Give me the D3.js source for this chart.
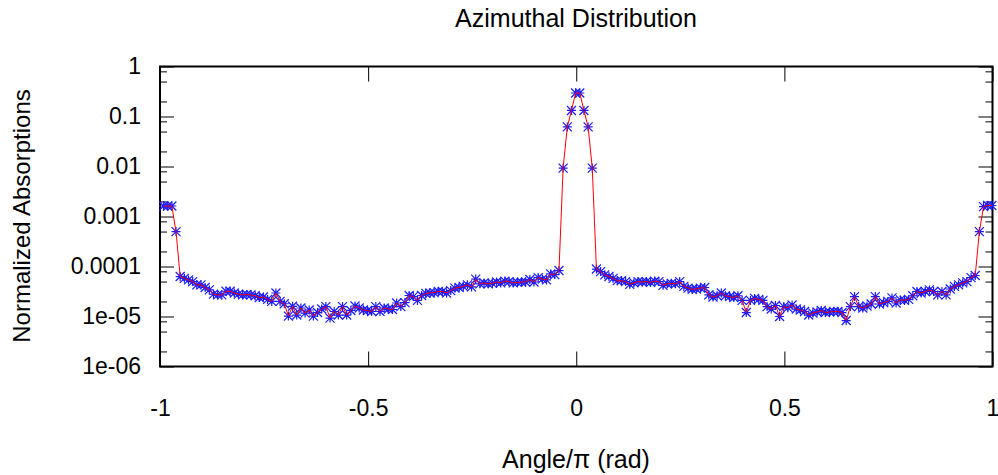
<!DOCTYPE html>
<html>
<head>
<meta charset="utf-8">
<script src="https://cdn.jsdelivr.net/npm/d3@7"></script>
<style>
  html, body { margin: 0; padding: 0; background: #fff; }
  svg { display: block; font-family: "Liberation Sans", Arial, Helvetica, sans-serif; }
</style>
</head>
<body>
<svg id="chart" width="998" height="475"></svg>
<script>
// Angular grid: 200 bins of width 0.01 (in units of pi)
const angleStart = -0.9915;
const angleStep = 0.01;

// Normalized absorption per angular bin
const absorptions = [
  1.62e-3, 1.62e-3, 1.62e-3, 5.0e-4, 6.3e-5, 5.8e-5, 5.4e-5, 5.0e-5, 4.3e-5, 4.3e-5,
  3.8e-5, 3.4e-5, 2.8e-5, 2.7e-5, 2.7e-5, 3.2e-5, 3.2e-5, 2.95e-5, 2.8e-5, 2.7e-5,
  2.75e-5, 2.7e-5, 2.6e-5, 2.4e-5, 2.45e-5, 2.2e-5, 2.0e-5, 2.95e-5, 2.0e-5, 1.8e-5,
  1.02e-5, 1.6e-5, 1.07e-5, 1.48e-5, 1.17e-5, 1.35e-5, 1.02e-5, 1.2e-5, 1.41e-5, 1.58e-5,
  9.3e-6, 1.26e-5, 1.07e-5, 1.58e-5, 1.07e-5, 1.32e-5, 1.62e-5, 1.48e-5, 1.35e-5, 1.32e-5,
  1.26e-5, 1.58e-5, 1.26e-5, 1.48e-5, 1.41e-5, 1.38e-5, 1.86e-5, 1.58e-5, 1.9e-5, 2.63e-5,
  2.5e-5, 2.1e-5, 2.63e-5, 2.9e-5, 2.95e-5, 3.0e-5, 3.16e-5, 3.16e-5, 2.95e-5, 3.3e-5,
  3.7e-5, 3.8e-5, 4.0e-5, 4.3e-5, 3.9e-5, 5.6e-5, 4.5e-5, 4.7e-5, 4.5e-5, 4.6e-5,
  4.9e-5, 4.7e-5, 5.1e-5, 5.0e-5, 4.7e-5, 4.8e-5, 4.9e-5, 4.9e-5, 5.5e-5, 4.9e-5,
  6.0e-5, 5.6e-5, 5.4e-5, 7.1e-5, 6.9e-5, 8.3e-5, 9.3e-3, 0.062, 0.132, 0.295,
  0.295, 0.132, 0.062, 9.3e-3, 8.9e-5, 7.9e-5, 6.8e-5, 6.3e-5, 5.8e-5, 5.2e-5,
  5.2e-5, 5.0e-5, 4.4e-5, 4.7e-5, 5.0e-5, 4.9e-5, 5.0e-5, 4.8e-5, 5.1e-5, 5.0e-5,
  4.2e-5, 4.5e-5, 4.6e-5, 4.5e-5, 5.0e-5, 4.0e-5, 3.7e-5, 3.5e-5, 3.55e-5, 3.7e-5,
  3.8e-5, 2.7e-5, 2.45e-5, 2.6e-5, 2.95e-5, 2.6e-5, 2.5e-5, 2.4e-5, 2.6e-5, 2.1e-5,
  1.2e-5, 2.1e-5, 2.3e-5, 2.2e-5, 2.1e-5, 1.58e-5, 1.41e-5, 1.66e-5, 1.0e-5, 1.58e-5,
  1.5e-5, 1.7e-5, 1.41e-5, 1.35e-5, 1.26e-5, 1.07e-5, 1.17e-5, 1.23e-5, 1.32e-5, 1.2e-5,
  1.23e-5, 1.26e-5, 1.26e-5, 1.2e-5, 8.3e-6, 1.58e-5, 2.5e-5, 1.58e-5, 1.48e-5, 1.62e-5,
  1.78e-5, 2.5e-5, 1.78e-5, 1.9e-5, 2.0e-5, 2.35e-5, 1.86e-5, 2.15e-5, 2.1e-5, 2.2e-5,
  2.6e-5, 3.16e-5, 2.95e-5, 3.16e-5, 3.4e-5, 3.16e-5, 2.7e-5, 3.16e-5, 2.7e-5, 3.55e-5,
  4.0e-5, 4.3e-5, 4.7e-5, 5.0e-5, 6.0e-5, 6.6e-5, 5.0e-4, 1.58e-3, 1.66e-3, 1.66e-3
];

// Axis ticks
const xTickValues = [-1, -0.5, 0, 0.5, 1];
const xTickLabels = ["-1", "-0.5", "0", "0.5", "1"];
const yTickValues = [1e-6, 1e-5, 1e-4, 1e-3, 1e-2, 1e-1, 1];
const yTickLabels = ["1e-06", "1e-05", "0.0001", "0.001", "0.01", "0.1", "1"];
const yMinorMantissas = [2, 5, 8];

const titleText = "Azimuthal Distribution";
const xLabelText = "Angle/\u03c0 (rad)";
const yLabelText = "Normalized Absorptions";

const svg = d3.select("#chart");
const plotLeft = 160, plotRight = 992.5, plotTop = 66.5, plotBottom = 366.5;

const x = d3.scaleLinear().domain([-1, 1]).range([plotLeft, plotRight]);
const y = d3.scaleLog().domain([1e-6, 1]).range([plotBottom, plotTop]);

const points = absorptions.map((v, i) => ({ a: angleStart + i * angleStep, v }));

const yMinor = [];
for (let e = -6; e < 0; e++) {
  yMinorMantissas.forEach(m => yMinor.push(m * Math.pow(10, e)));
}

const tickFont = 23;

function styleAxis(g) {
  g.select(".domain").remove();
  g.selectAll(".tick line").attr("stroke", "#000").attr("stroke-width", 1);
  g.selectAll(".tick text").attr("fill", "#000").attr("font-size", tickFont)
    .attr("font-family", "Liberation Sans, Arial, Helvetica, sans-serif");
}

// Left axis with labels, ticks pointing into the plot
svg.append("g").attr("transform", `translate(${plotLeft},0)`)
  .call(d3.axisLeft(y).tickValues(yTickValues)
    .tickFormat((d, i) => yTickLabels[i]).tickSizeInner(-14).tickSizeOuter(0).tickPadding(19))
  .call(styleAxis);
svg.append("g").attr("transform", `translate(${plotLeft},0)`)
  .call(d3.axisLeft(y).tickValues(yMinor).tickFormat("").tickSizeInner(-7).tickSizeOuter(0))
  .call(styleAxis);

// Mirrored right axis
svg.append("g").attr("transform", `translate(${plotRight},0)`)
  .call(d3.axisRight(y).tickValues(yTickValues).tickFormat("").tickSizeInner(-14).tickSizeOuter(0))
  .call(styleAxis);
svg.append("g").attr("transform", `translate(${plotRight},0)`)
  .call(d3.axisRight(y).tickValues(yMinor).tickFormat("").tickSizeInner(-7).tickSizeOuter(0))
  .call(styleAxis);

// Bottom axis with labels
svg.append("g").attr("transform", `translate(0,${plotBottom})`)
  .call(d3.axisBottom(x).tickValues(xTickValues)
    .tickFormat((d, i) => xTickLabels[i]).tickSizeInner(-15).tickSizeOuter(0).tickPadding(33))
  .call(styleAxis);

// Mirrored top axis
svg.append("g").attr("transform", `translate(0,${plotTop})`)
  .call(d3.axisTop(x).tickValues(xTickValues).tickFormat("").tickSizeInner(-15).tickSizeOuter(0))
  .call(styleAxis);

// Plot frame
svg.append("rect")
  .attr("x", plotLeft).attr("y", plotTop)
  .attr("width", plotRight - plotLeft).attr("height", plotBottom - plotTop)
  .attr("fill", "none").attr("stroke", "#000").attr("stroke-width", 2);

// Asterisk markers
const r = 4.5;
const markers = svg.append("g").attr("stroke", "#1a1aff").attr("stroke-width", 1.2).attr("fill", "none");
markers.selectAll("path").data(points).join("path")
  .attr("d", d => {
    const cx = x(d.a), cy = y(d.v);
    return `M${cx - r},${cy}H${cx + r}M${cx},${cy - r}V${cy + r}` +
           `M${cx - r},${cy - r}L${cx + r},${cy + r}M${cx - r},${cy + r}L${cx + r},${cy - r}`;
  });

// Connecting line
svg.append("path").datum(points)
  .attr("fill", "none").attr("stroke", "#ff0000").attr("stroke-width", 1)
  .attr("d", d3.line().x(d => x(d.a)).y(d => y(d.v)));

// Titles
svg.append("text").attr("x", 576).attr("y", 27).attr("text-anchor", "middle")
  .attr("font-size", 25).attr("fill", "#000").text(titleText);
svg.append("text").attr("x", 576).attr("y", 468).attr("text-anchor", "middle")
  .attr("font-size", 25).attr("fill", "#000").text(xLabelText);
svg.append("text").attr("transform", "translate(30,216) rotate(-90)").attr("text-anchor", "middle")
  .attr("font-size", 24).attr("fill", "#000").text(yLabelText);
</script>
</body>
</html>
